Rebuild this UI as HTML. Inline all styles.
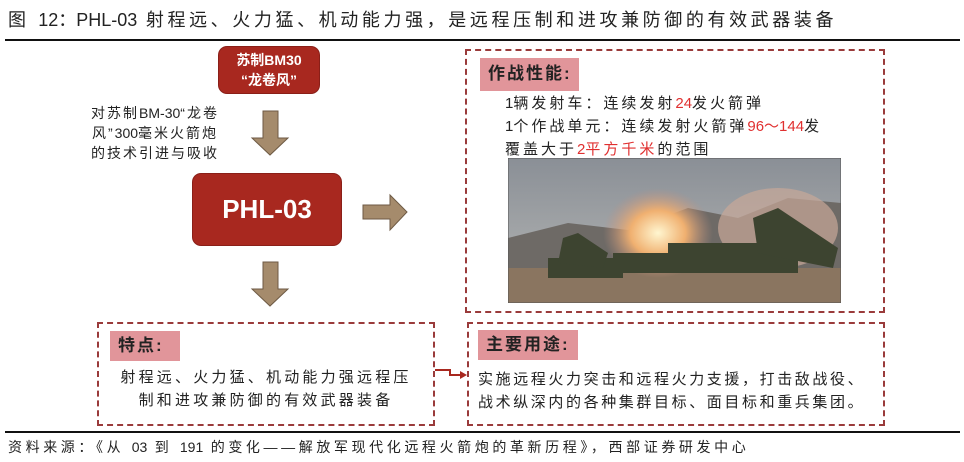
<!DOCTYPE html>
<html><head><meta charset="utf-8"><style>
body{margin:0;width:964px;height:462px;background:#fff;position:relative;overflow:hidden;font-family:"Liberation Sans","Noto Sans CJK SC",sans-serif;color:#222}
.a{position:absolute}
.red{background:#a8281f;border-radius:8px;color:#fff;text-align:center;box-shadow:0 0 0 1px #8a1f18}
.dash{border:2px dashed #9a3b3b;box-sizing:border-box}
.lab{background:#e1959a;font-weight:bold;font-size:17px;color:#222;padding-left:8px;box-sizing:border-box;line-height:32px;letter-spacing:2px}
.t{font-size:15px;line-height:23px;letter-spacing:3px;white-space:nowrap}
.r{color:#e03030}
.l{letter-spacing:0}
</style></head><body>
<div class="a" style="left:8px;top:6px;font-size:18px;white-space:nowrap;letter-spacing:3.6px">图 <span class="l">12：PHL-03</span> 射程远、火力猛、机动能力强，是远程压制和进攻兼防御的有效武器装备</div>
<div class="a" style="left:5px;top:39px;width:955px;height:2px;background:#111"></div>

<div class="a red" style="left:219px;top:47px;width:100px;height:46px;font-size:14px;line-height:20px;padding-top:3px;box-sizing:border-box;font-weight:bold">苏制BM30<br>“龙卷风”</div>
<div class="a" style="left:80px;top:103px;width:150px;font-size:14px;line-height:20px;text-align:center;letter-spacing:2px;white-space:nowrap">对苏制<span class="l">BM-30</span>“龙卷<br>风”<span class="l">300</span>毫米火箭炮<br>的技术引进与吸收</div>

<svg class="a" style="left:0;top:0" width="964" height="462">
<g fill="#a58b6c" stroke="#6e5a44" stroke-width="1">
<polygon points="263,111 278,111 278,138 288,138 270,155 252,138 263,138"/>
<polygon points="263,262 278,262 278,289 288,289 270,306 252,289 263,289"/>
<polygon points="363,205 390,205 390,195 407,212 390,230 390,219 363,219"/>
</g>
<polyline points="435,370 450,370 450,375 465,375" fill="none" stroke="#a8281f" stroke-width="2"/>
<polygon points="467,375 460,371 460,379" fill="#a8281f"/>
</svg>

<div class="a red" style="left:193px;top:174px;width:148px;height:71px;font-size:26px;font-weight:bold;line-height:71px">PHL-03</div>

<div class="a dash" style="left:465px;top:49px;width:420px;height:264px"></div>
<div class="a lab" style="left:480px;top:58px;width:99px;height:33px">作战性能:</div>
<div class="a t" style="left:505px;top:92px"><span class="l">1</span>辆发射车：连续发射<span class="r l">24</span>发火箭弹<br><span class="l">1</span>个作战单元：连续发射火箭弹<span class="r l">96～144</span>发<br>覆盖大于<span class="r"><span class="l">2</span>平方千米</span>的范围</div>
<svg class="a" style="left:508px;top:158px" width="333" height="145">
<defs><linearGradient id="s" x1="0" y1="0" x2="0" y2="1"><stop offset="0" stop-color="#8a8f96"/><stop offset="1" stop-color="#b7b8b6"/></linearGradient>
<radialGradient id="f"><stop offset="0" stop-color="#fff6d0"/><stop offset=".5" stop-color="#f0b070"/><stop offset="1" stop-color="#c09080" stop-opacity="0"/></radialGradient></defs>
<rect width="333" height="145" fill="url(#s)"/>
<polygon points="0,80 60,65 120,72 180,50 230,60 280,40 333,45 333,145 0,145" fill="#6e6a66"/>
<rect y="110" width="333" height="35" fill="#8a7560"/>
<ellipse cx="150" cy="75" rx="55" ry="45" fill="url(#f)"/>
<ellipse cx="270" cy="70" rx="60" ry="40" fill="#c7a898" opacity=".7"/>
<g fill="#3d4430"><rect x="160" y="85" width="130" height="30"/><polygon points="250,95 325,110 330,90 270,50 245,60"/><rect x="40" y="100" width="75" height="20"/><polygon points="50,105 95,110 100,95 70,75 55,80"/><rect x="105" y="95" width="55" height="20"/></g>
<rect width="333" height="145" fill="none" stroke="#555"/>
</svg>

<div class="a dash" style="left:97px;top:322px;width:338px;height:104px"></div>
<div class="a lab" style="left:110px;top:331px;width:70px;height:30px;line-height:30px">特点:</div>
<div class="a t" style="left:100px;top:366px;width:332px;text-align:center;letter-spacing:3.2px">射程远、火力猛、机动能力强远程压<br>制和进攻兼防御的有效武器装备</div>

<div class="a dash" style="left:467px;top:322px;width:418px;height:104px"></div>
<div class="a lab" style="left:478px;top:330px;width:100px;height:30px;line-height:30px">主要用途:</div>
<div class="a t" style="left:478px;top:368px;letter-spacing:2.6px">实施远程火力突击和远程火力支援，打击敌战役、<br>战术纵深内的各种集群目标、面目标和重兵集团。</div>

<div class="a" style="left:5px;top:431px;width:955px;height:2px;background:#111"></div>
<div class="a" style="left:8px;top:437px;font-size:14px;white-space:nowrap;letter-spacing:3.6px">资料来源：《从 <span class="l">03</span> 到 <span class="l">191</span> 的变化——解放军现代化远程火箭炮的革新历程》，西部证券研发中心</div>
</body></html>
